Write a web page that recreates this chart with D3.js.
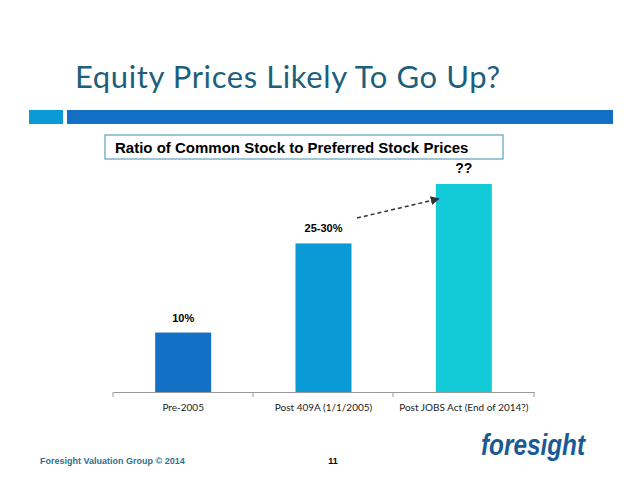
<!DOCTYPE html>
<html><head><meta charset="utf-8">
<script src="https://cdn.jsdelivr.net/npm/d3@7"></script>
<style>body{margin:0;background:#fff}</style>
</head><body>
<script>
// chart data
const categories = ["Pre-2005", "Post 409A (1/1/2005)", "Post JOBS Act (End of 2014?)"]
const values = [10, 25, 35]
const barLabels = ["10%", "25-30%", "??"]
const barColors = ["#1470c4", "#0a9bd6", "#12cad8"]

const W = 638, H = 493
const svg = d3.select("body").append("svg").attr("width", W).attr("height", H)

// title + header bars
svg.append("text").attr("x", 75).attr("y", 88).attr("font-family", "Lato, sans-serif")
    .attr("font-size", 31).attr("letter-spacing", 0.6).attr("fill", "#1d5f7c").text("Equity Prices Likely To Go Up?")
svg.append("rect").attr("x", 29).attr("y", 110).attr("width", 34).attr("height", 14).attr("fill", "#0a9bd6")
svg.append("rect").attr("x", 67).attr("y", 110).attr("width", 546).attr("height", 14).attr("fill", "#1470c4")

// chart box title
svg.append("rect").attr("x", 105).attr("y", 135).attr("width", 398).attr("height", 24)
    .attr("fill", "#fff").attr("stroke", "#3b8fb0").attr("stroke-width", 1)
svg.append("text").attr("x", 115).attr("y", 153).attr("font-family", "Liberation Sans, Arial")
    .attr("font-weight", "bold").attr("font-size", 15).text("Ratio of Common Stock to Preferred Stock Prices")

var x = d3.scaleBand().domain(categories).range([113, 534]).paddingInner(0).paddingOuter(0)
var y = d3.scaleLinear().domain([0, 35]).range([392, 184])

svg.selectAll(".bar").data(values).enter().append("rect")
    .attr("x", (d, i) => x(categories[i]) + x.bandwidth() / 2 - 28)
    .attr("width", 56)
    .attr("y", d => y(d))
    .attr("height", d => y(0) - y(d))
    .attr("fill", (d, i) => barColors[i])

svg.selectAll(".lbl").data(values).enter().append("text")
    .attr("x", (d, i) => x(categories[i]) + x.bandwidth() / 2)
    .attr("y", d => y(d) - 11)
    .attr("text-anchor", "middle").attr("font-family", "Liberation Sans, Arial")
    .attr("font-weight", "bold").attr("font-size", (d, i) => i == 2 ? 14 : 11)
    .text((d, i) => barLabels[i])

// axis
var ax = svg.append("g").attr("transform", "translate(0,392)")
    .call(d3.axisBottom(x).tickSize(0).tickPadding(12))
ax.select(".domain").attr("stroke", "#999")
ax.selectAll("text").attr("font-family", "Lato, sans-serif").attr("font-size", 10).attr("fill", "#222")
ax.selectAll(".sep").data([113, 253, 393, 534]).enter().append("line")
    .attr("x1", d => d).attr("x2", d => d).attr("y1", 0).attr("y2", 5).attr("stroke", "#999")

// dashed arrow
svg.append("defs").append("marker").attr("id", "ah").attr("viewBox", "0 0 10 10")
    .attr("refX", 8).attr("refY", 5).attr("markerWidth", 6).attr("markerHeight", 6).attr("orient", "auto")
    .append("path").attr("d", "M0,0L10,5L0,10z").attr("fill", "#333")
svg.append("line").attr("x1", 357).attr("y1", 218).attr("x2", 438).attr("y2", 199)
    .attr("stroke", "#333").attr("stroke-width", 1.5).attr("stroke-dasharray", "4,3")
    .attr("marker-end", "url(#ah)")

// footer
svg.append("text").attr("x", 40).attr("y", 464).attr("font-family", "Liberation Sans, Arial")
    .attr("font-weight", "bold").attr("font-size", 9).attr("fill", "#2f6f8f").text("Foresight Valuation Group © 2014")
svg.append("text").attr("x", 333).attr("y", 464).attr("font-family", "Liberation Sans, Arial")
    .attr("font-weight", "bold").attr("font-size", 9).attr("text-anchor", "middle").text("11")
svg.append("text").attr("x", 481).attr("y", 455).attr("font-family", "Liberation Sans, Arial")
    .attr("font-weight", "bold").attr("font-style", "italic").attr("font-size", 29).attr("fill", "#1b5a94")
    .attr("textLength", 104).attr("lengthAdjust", "spacingAndGlyphs").text("foresight")
</script>
</body></html>
